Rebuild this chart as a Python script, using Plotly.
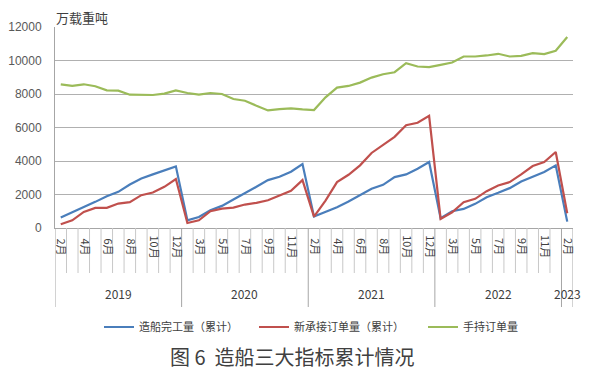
import plotly.graph_objects as go

# ---- data ----
years = ["2019", "2020", "2021", "2022", "2023"]
months_per_year = {
    "2019": [2, 3, 4, 5, 6, 7, 8, 9, 10, 11, 12],
    "2020": [2, 3, 4, 5, 6, 7, 8, 9, 10, 11, 12],
    "2021": [2, 3, 4, 5, 6, 7, 8, 9, 10, 11, 12],
    "2022": [2, 3, 4, 5, 6, 7, 8, 9, 10, 11, 12],
    "2023": [2],
}
completed = [620, 920, 1260, 1560, 1900, 2160, 2600, 2960, 3200, 3460, 3680,
             460, 660, 1060, 1320, 1700, 2060, 2460, 2860, 3060, 3360, 3820,
             680, 940, 1240, 1580, 1940, 2340, 2580, 3040, 3200, 3540, 3940,
             580, 1000, 1140, 1440, 1840, 2100, 2380, 2780, 3080, 3340, 3740,
             380]
new_orders = [220, 460, 960, 1200, 1200, 1460, 1540, 1960, 2120, 2460, 2920,
              300, 460, 1000, 1160, 1220, 1400, 1500, 1660, 1960, 2220, 2860,
              680, 1640, 2740, 3180, 3740, 4480, 4940, 5440, 6140, 6280, 6700,
              540, 940, 1540, 1740, 2200, 2540, 2740, 3200, 3700, 3940, 4540,
              880]
holding = [8580, 8480, 8580, 8460, 8220, 8200, 7960, 7960, 7940, 8020, 8220,
           8060, 7960, 8060, 8000, 7700, 7600, 7300, 7020, 7100, 7140, 7080,
           7040, 7800, 8380, 8480, 8680, 8980, 9180, 9300, 9840, 9640, 9600,
           9740, 9880, 10240, 10240, 10300, 10400, 10240, 10280, 10440, 10380, 10580,
           11400]
series_names = ["造船完工量（累计）", "新承接订单量（累计）", "手持订单量"]
y_ticks = [0, 2000, 4000, 6000, 8000, 10000, 12000]

# ---- build category index ----
cats = []
for y in years:
    for m in months_per_year[y]:
        cats.append((y, m))
xs = list(range(len(cats)))

FONT = "Noto Sans CJK SC"
colors = ["#4A7EBB", "#C0504D", "#9BBB59"]

fig = go.Figure()
for i, (name, vals) in enumerate(zip(series_names, [completed, new_orders, holding])):
    fig.add_trace(go.Scatter(
        x=xs, y=vals, mode="lines", name=name,
        line=dict(color=colors[i], width=2.2),
        legend=["legend", "legend2", "legend3"][i],
    ))

annotations = []
shapes = []
n = len(cats)
PH = 201.0  # plot height in px
# month labels every other category
for i, (y, m) in enumerate(cats):
    if i % 2 == 0:
        annotations.append(dict(
            x=i + 0.15, y=(228 - 247) / PH, xref="x", yref="paper", text=f"{m}月",
            textangle=90, showarrow=False, xanchor="center", yanchor="middle",
            font=dict(family=FONT, size=11, color="#404040")))
# category boundary lines
tick_bottom = (228 - 273) / PH
year_bottom = (228 - 307) / PH
year_starts = []
idx = 0
for y in years:
    year_starts.append(idx)
    idx += len(months_per_year[y])
year_starts.append(idx)
for b in range(n + 1):
    xb = b - 0.5
    long = b in year_starts
    shapes.append(dict(type="line", xref="x", yref="paper", x0=xb, x1=xb,
                       y0=0, y1=year_bottom if long else tick_bottom,
                       line=dict(color="#A6A6A6" if long else "#C8C8C8", width=1)))
# year labels
for k, y in enumerate(years):
    c = (year_starts[k] + year_starts[k + 1] - 1) / 2
    annotations.append(dict(
        x=c, y=(228 - 293) / PH, xref="x", yref="paper", text=y,
        showarrow=False, xanchor="center", yanchor="middle",
        font=dict(family=FONT, size=12, color="#404040")))
# y-axis unit
annotations.append(dict(
    x=0, y=(228 - 17) / PH, xref="paper", yref="paper", text="万载重吨",
    showarrow=False, xanchor="left", yanchor="middle", borderpad=0,
    font=dict(family=FONT, size=13, color="#404040")))
# caption
annotations.append(dict(
    x=(292 - 55) / 518, y=(228 - 357) / PH, xref="paper", yref="paper",
    text="图 6  造船三大指标累计情况",
    showarrow=False, xanchor="center", yanchor="middle",
    font=dict(family=FONT, size=20, color="#404040")))

leg_common = dict(orientation="h", yanchor="middle", xanchor="left",
                  bgcolor="rgba(0,0,0,0)", borderwidth=0, itemwidth=30,
                  font=dict(family=FONT, size=11, color="#404040"))
ly = (228 - 327) / PH

fig.update_layout(
    width=580, height=367,
    margin=dict(l=47, r=15, t=19, b=147, autoexpand=False),
    paper_bgcolor="white", plot_bgcolor="white",
    showlegend=True,
    legend=dict(x=(99 - 55) / 518, y=ly, **leg_common),
    legend2=dict(x=(254 - 55) / 518, y=ly, **leg_common),
    legend3=dict(x=(423 - 55) / 518, y=ly, **leg_common),
    xaxis=dict(range=[-0.5, n - 0.5], showticklabels=False, showgrid=False,
               zeroline=False, showline=True, linecolor="#A6A6A6", linewidth=1,
               ticks="", automargin=False),
    yaxis=dict(range=[0, 12000], tickvals=y_ticks, tickformat="d", showgrid=True,
               gridcolor="#B0B0B0", gridwidth=1, zeroline=False,
               showline=True, linecolor="#A6A6A6", linewidth=1, ticks="",
               ticklabelstandoff=10, automargin=False,
               tickfont=dict(family="Liberation Sans", size=12, color="#595959")),
    annotations=annotations,
    shapes=shapes,
)

fig.write_html("out.html")
